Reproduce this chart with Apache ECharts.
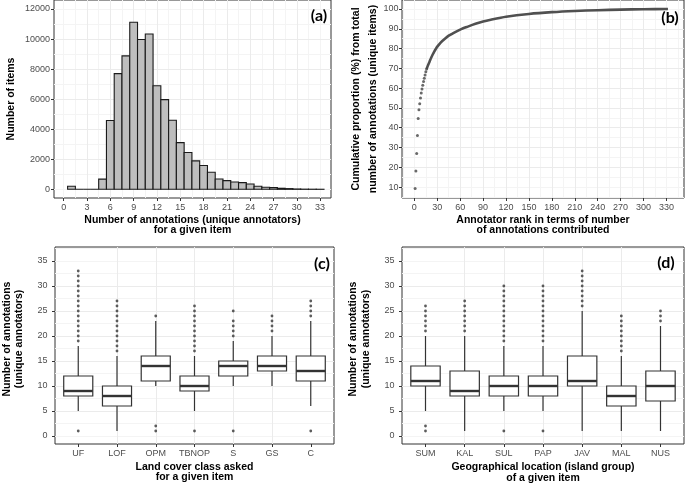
<!DOCTYPE html>
<html><head><meta charset="utf-8">
<script src="https://cdn.jsdelivr.net/npm/echarts@6/dist/echarts.min.js"></script>
<style>
html,body{margin:0;padding:0;background:#fff}
#wrap{position:relative;width:685px;height:484px}
#c{width:685px;height:484px}
.ytitle{position:absolute;width:220px;height:12px;line-height:12px;text-align:center;white-space:nowrap;
  font:bold 10.5px "Liberation Sans", Arial, sans-serif;color:#000;transform:rotate(-90deg);transform-origin:50% 50%;pointer-events:none}
</style>
</head><body><div id="wrap"><div id="c"></div>
<div class="ytitle" style="left:245px;top:93px">Cumulative proportion (%) from total</div>
<div class="ytitle" style="left:262px;top:93px">number of annotations (unique items)</div>
</div>
<script>
// ---------- data ----------
const histBins = [1,2,3,4,5,6,7,8,9,10,11,12,13,14,15,16,17,18,19,20,21,22,23,24,25,26,27,28,29,30,31,32,33];
const histCounts = [200,0,0,0,680,4580,7700,8880,11120,9970,10340,6890,5970,4600,3110,2445,1890,1580,1130,690,580,490,445,355,200,135,110,70,45,22,10,6,3];
const histXTicks = [0,3,6,9,12,15,18,21,24,27,30,33];
const histYTicks = [0,2000,4000,6000,8000,10000,12000];

const rankDots = [1,2,3,4,5,6,7,8,9,10,11,12,13,14,15,16];
const propDots = [9.2,18.1,27.0,36.0,44.6,49.1,52.1,55.0,57.5,59.6,61.4,63.3,65.0,66.6,68.3,69.7];
const rankCurve = [16,17,18,19,20,22,24,26,28,30,35,40,45,50,60,70,80,90,100,120,150,180,210,240,270,300,332];
const propCurve = [69.7,70.7,71.7,72.6,73.5,75.4,77.0,78.5,79.8,81.0,83.3,85.0,86.5,87.6,89.6,91.1,92.5,93.7,94.6,96.1,97.5,98.4,99.0,99.4,99.7,99.9,100];
const rankXTicks = [0,30,60,90,120,150,180,210,240,270,300,330];
const propYTicks = [10,20,30,40,50,60,70,80,90,100];

const landCats = ['UF','LOF','OPM','TBNOP','S','GS','C'];
// [lower whisker, Q1, median, Q3, upper whisker]
const landBoxes = [[5,8,9,12,18],[1,6,8,10,16],[10,11,14,16,23],[5,9,10,12,16],[10,12,14,15,19],[10,13,14,16,20],[6,11,13,16,23]];
const landOutliers = [
  [1,19,20,21,22,23,24,25,26,27,28,29,30,31,32,33],
  [17,18,19,20,21,22,23,24,25,26,27],
  [1,2,24],
  [1,17,18,19,20,21,22,23,24,25,26],
  [1,20,21,22,23,25],
  [21,22,23,24],
  [1,24,25,26,27]
];
const islandCats = ['SUM','KAL','SUL','PAP','JAV','MAL','NUS'];
const islandBoxes = [[5,10,11,14,20],[1,8,9,13,20],[5,8,10,12,18],[5,8,10,12,18],[1,10,11,16,25],[1,6,8,10,16],[1,7,10,13,22]];
const islandOutliers = [
  [1,2,21,22,23,24,25,26],
  [21,22,23,24,25,26,27],
  [1,19,20,21,22,23,24,25,26,27,28,29,30],
  [1,19,20,21,22,23,24,25,26,27,28,29,30],
  [26,27,28,29,30,31,32,33],
  [17,18,19,20,21,22,23,24],
  [23,24,25]
];
const boxYTicks = [0,5,10,15,20,25,30,35];
const catTicks = [1,2,3,4,5,6,7];

// ---------- style ----------
const INK = '#333333', LBL = '#4D4D4D', GRID = '#EBEBEB', MINOR = '#F4F4F4';
const TFONT = 'Liberation Sans, Arial, sans-serif';

const panels = [
  {left:54, top:0, width:277, height:198, x:[-1.25,34.4,3,1.5], y:[-579,12600,2000,1000], xt:histXTicks, yt:histYTicks, xf:v=>String(v), ym:4},
  {left:402, top:0, width:282, height:198, x:[-16.2,353,30,15], y:[4.45,104.55,10,5], xt:rankXTicks, yt:propYTicks, xf:v=>String(v), ym:3.5},
  {left:55, top:247, width:279, height:197, x:[0.4,7.6,1,null], y:[-1.6,37.8,5,2.5], xt:catTicks, yt:boxYTicks, xf:v=>landCats[v-1]||'', ym:7.5},
  {left:402, top:247, width:282, height:197, x:[0.4,7.6,1,null], y:[-1.6,37.8,5,2.5], xt:catTicks, yt:boxYTicks, xf:v=>islandCats[v-1]||'', ym:7.5}
];

const grids = [], xAxes = [], yAxes = [];
panels.forEach((p, gi) => {
  grids.push({left:p.left, top:p.top, width:p.width, height:p.height, show:true,
    borderColor:INK, borderWidth:1, backgroundColor:'#fff', containLabel:false, outerBoundsMode:'none'});
  const lab = {color:LBL, fontSize:9, fontFamily:TFONT};
  xAxes.push({type:'value', gridIndex:gi, position:'bottom', min:p.x[0], max:p.x[1],
    minInterval:p.x[2], maxInterval:p.x[2], z:3,
    axisLine:{show:false, onZero:false},
    axisTick:{show:true, customValues:p.xt, length:3, lineStyle:{color:INK, width:1}},
    axisLabel:Object.assign({customValues:p.xt, formatter:p.xf, margin:5}, lab),
    splitLine:{show:true, showMinLine:false, showMaxLine:false, lineStyle:{color:GRID, width:1}}});
  xAxes.push({type:'value', gridIndex:gi, position:'top', min:p.x[0], max:p.x[1],
    minInterval:p.x[3]||p.x[2], maxInterval:p.x[3]||p.x[2], z:1,
    axisLine:{show:false, onZero:false}, axisTick:{show:false}, axisLabel:{show:false},
    splitLine:{show:p.x[3]!=null, showMinLine:false, showMaxLine:false, lineStyle:{color:MINOR, width:1}}});
  yAxes.push({type:'value', gridIndex:gi, position:'left', min:p.y[0], max:p.y[1],
    minInterval:p.y[2], maxInterval:p.y[2], z:3,
    axisLine:{show:false, onZero:false},
    axisTick:{show:true, customValues:p.yt, length:3, lineStyle:{color:INK, width:1}},
    axisLabel:Object.assign({customValues:p.yt, formatter:v=>String(v), margin:p.ym}, lab),
    splitLine:{show:true, showMinLine:false, showMaxLine:false, lineStyle:{color:GRID, width:1}}});
  yAxes.push({type:'value', gridIndex:gi, position:'right', min:p.y[0], max:p.y[1],
    minInterval:p.y[3], maxInterval:p.y[3], z:1,
    axisLine:{show:false, onZero:false}, axisTick:{show:false}, axisLabel:{show:false},
    splitLine:{show:true, showMinLine:false, showMaxLine:false, lineStyle:{color:MINOR, width:1}}});
});

function boxRender(params, api) {
  const x = api.value(0);
  const lo = api.coord([x, api.value(1)]), q1 = api.coord([x, api.value(2)]),
        md = api.coord([x, api.value(3)]), q3 = api.coord([x, api.value(4)]),
        hi = api.coord([x, api.value(5)]);
  const w = api.size([0.75, 0])[0];
  const cx = lo[0];
  const ls = {stroke:INK, lineWidth:1.2};
  return {type:'group', children:[
    {type:'line', shape:{x1:cx, y1:lo[1], x2:cx, y2:q1[1]}, style:ls},
    {type:'line', shape:{x1:cx, y1:q3[1], x2:cx, y2:hi[1]}, style:ls},
    {type:'rect', shape:{x:cx-w/2, y:q3[1], width:w, height:q1[1]-q3[1]}, style:{fill:'#fff', stroke:INK, lineWidth:1.2}},
    {type:'line', shape:{x1:cx-w/2, y1:md[1], x2:cx+w/2, y2:md[1]}, style:{stroke:INK, lineWidth:2.4}}
  ]};
}
function boxData(boxes){ return boxes.map((b,i)=>[i+1].concat(b)); }
function outData(outs){ const r=[]; outs.forEach((arr,i)=>arr.forEach(v=>r.push([i+1,v]))); return r; }

const series = [
  {type:'custom', xAxisIndex:0, yAxisIndex:0, z:5,
   data: histBins.map((b,i)=>[b, histCounts[i]]),
   renderItem(params, api){
     const x = api.value(0), v = api.value(1);
     const p0 = api.coord([x-0.5, 0]), p1 = api.coord([x+0.5, v]);
     return {type:'rect', shape:{x:p0[0], y:p1[1], width:p1[0]-p0[0], height:p0[1]-p1[1]},
             style:{fill:'#BEBEBE', stroke:'#1A1A1A', lineWidth:1.1}};
   }},
  {type:'line', xAxisIndex:2, yAxisIndex:2, z:5, data: rankCurve.map((r,i)=>[r, propCurve[i]]),
   showSymbol:false, smooth:0.25, lineStyle:{color:'#505050', width:2.6}},
  {type:'scatter', xAxisIndex:2, yAxisIndex:2, z:5, data: rankDots.map((r,i)=>[r, propDots[i]]),
   symbolSize:3, itemStyle:{color:'#444'}},
  {type:'custom', xAxisIndex:4, yAxisIndex:4, z:5, data: boxData(landBoxes), renderItem: boxRender},
  {type:'scatter', xAxisIndex:4, yAxisIndex:4, z:5, data: outData(landOutliers), symbolSize:2.8, itemStyle:{color:INK}},
  {type:'custom', xAxisIndex:6, yAxisIndex:6, z:5, data: boxData(islandBoxes), renderItem: boxRender},
  {type:'scatter', xAxisIndex:6, yAxisIndex:6, z:5, data: outData(islandOutliers), symbolSize:2.8, itemStyle:{color:INK}}
];

function txt(t, x, y, rot, size, fam, weight) {
  return {type:'text', x:x, y:y, rotation:rot||0, z:100,
    style:{text:t, fill:'#000', fontSize:size||10.5, fontWeight:weight||'bold', fontFamily:fam||TFONT,
           textAlign:'center', textVerticalAlign:'middle'}};
}
const R = Math.PI/2;
const PL = 'Lato, Open Sans, sans-serif';
const graphics = [
  txt('Number of items', 11, 99, R),
  txt('Number of annotations (unique annotators)', 192.5, 220),
  txt('for a given item', 192.5, 230.5),
  txt('Annotator rank in terms of number', 543, 220),
  txt('of annotations contributed', 543, 230.5),
  txt('Number of annotations', 7, 339, R),
  txt('(unique annotators)', 19, 339, R),
  txt('Land cover class asked', 194.5, 467),
  txt('for a given item', 194.5, 477.5),
  txt('Number of annotations', 353.5, 339, R),
  txt('(unique annotators)', 366, 339, R),
  txt('Geographical location (island group)', 543, 467.5),
  txt('of a given item', 543, 478),
  txt('(a)', 319, 16, 0, 16, PL),
  txt('(b)', 670, 17.5, 0, 16, PL),
  txt('(c)', 322, 264, 0, 16, PL),
  txt('(d)', 666, 263, 0, 16, PL)
];

const chart = echarts.init(document.getElementById('c'), null, {renderer:'canvas'});
chart.setOption({
  animation:false, backgroundColor:'#fff',
  grid:grids, xAxis:xAxes, yAxis:yAxes, series:series
});
chart.setOption({graphic:{elements:graphics}});
</script></body></html>
